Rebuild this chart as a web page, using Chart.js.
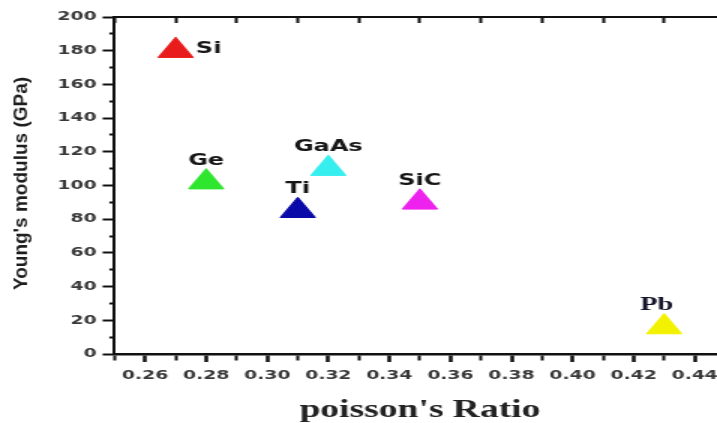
<!DOCTYPE html>
<html>
<head>
<meta charset="utf-8">
<script src="https://cdn.jsdelivr.net/npm/chart.js@4.4.1/dist/chart.umd.min.js"></script>
<style>
    html, body { margin: 0; padding: 0; background: #fff; overflow: hidden; width: 717px; height: 423px; }
    #wrap { width: 500px; height: 423px; transform: scaleX(1.5); transform-origin: 0 0; }
    canvas { display: block; }
</style>
</head>
<body>
<div id="wrap"><canvas id="moduloChart" width="500" height="423"></canvas></div>
<script>
// Datos
const materiales = ['Si', 'Ge', 'Ti', 'GaAs', 'SiC', 'Pb'];
const poisson = [0.27, 0.28, 0.31, 0.32, 0.35, 0.43];
const young = [180, 102, 85, 110, 90, 16];
const colores = ['#e81c1c', '#2ee62e', '#0a0aa8', '#36eeee', '#ee22ee', '#f2f200'];
const xEtiquetas = [0.26, 0.28, 0.30, 0.32, 0.34, 0.36, 0.38, 0.40, 0.42, 0.44];
const yEtiquetas = [0, 20, 40, 60, 80, 100, 120, 140, 160, 180, 200];

const ESTIRAR = 1.5;   // el canvas se estira en horizontal como la figura original

function esMayor(lista, v) {
    return lista.some(t => Math.abs(t - v) < 1e-6);
}

// Etiquetas de cada material y titulos de ejes
const textosPlugin = {
    id: 'textos',
    afterDatasetsDraw(chart) {
        const ctx = chart.ctx;
        const puntos = chart.getDatasetMeta(0).data;
        const ajustes = {
            Si: { dx: 13.5, dy: -2, align: 'left', base: 'middle' },
            Pb: { dx: -5, dy: -17.5, align: 'center', base: 'alphabetic', serif: true }
        };
        ctx.save();
        puntos.forEach((p, i) => {
            const nombre = materiales[i];
            const a = ajustes[nombre] || { dx: 0, dy: -17.5, align: 'center', base: 'alphabetic' };
            ctx.font = a.serif ? 'bold 19px "Liberation Serif"' : 'bold 16px "DejaVu Sans"';
            ctx.fillStyle = a.serif ? '#14142a' : '#161616';
            ctx.textAlign = a.align;
            ctx.textBaseline = a.base;
            ctx.fillText(nombre, p.x + a.dx, p.y + a.dy);
        });

        const area = chart.chartArea;
        // titulo eje x
        ctx.font = 'bold 25px "Liberation Serif"';
        ctx.fillStyle = '#222';
        ctx.textAlign = 'center';
        ctx.textBaseline = 'alphabetic';
        ctx.fillText("poisson's Ratio", (area.left + area.right) / 2, 417);

        // titulo eje y (compensando el estiramiento)
        ctx.translate(18.3, (area.top + area.bottom) / 2 - 2);
        ctx.scale(1 / ESTIRAR, 1);
        ctx.rotate(-Math.PI / 2);
        ctx.font = 'bold 19px "Liberation Sans"';
        ctx.fillStyle = '#1e1e1e';
        ctx.fillText("Young's modulus (GPa)", 0, 0);
        ctx.restore();
    }
};

const ctx = document.getElementById('moduloChart').getContext('2d');
new Chart(ctx, {
    type: 'scatter',
    data: {
        datasets: [{
            label: 'Materiales',
            data: poisson.map((x, i) => ({ x: x, y: young[i] })),
            pointStyle: 'triangle',
            pointRadius: 13.5,
            pointHoverRadius: 13.5,
            pointBackgroundColor: colores,
            pointBorderColor: colores,
            pointBorderWidth: 1
        }]
    },
    options: {
        responsive: false,
        animation: false,
        events: [],
        layout: {
            padding: { top: 17, right: 16.5, bottom: 0, left: 0 }
        },
        plugins: {
            legend: { display: false },
            tooltip: { enabled: false }
        },
        scales: {
            x: {
                type: 'linear',
                position: 'bottom',
                min: 0.25,
                max: 0.45,
                afterFit: scale => { scale.height = 69; },
                border: { display: true, color: '#111', width: 2.5 },
                grid: {
                    drawOnChartArea: false,
                    drawTicks: true,
                    tickLength: 8,
                    tickColor: '#111',
                    tickWidth: c => esMayor(xEtiquetas, c.tick.value) ? 2.5 : 2,
                    tickBorderDash: c => esMayor(xEtiquetas, c.tick.value) ? [] : [5, 50]
                },
                ticks: {
                    stepSize: 0.01,
                    maxTicksLimit: 100,
                    autoSkip: false,
                    maxRotation: 0,
                    padding: 6,
                    color: '#383838',
                    font: { family: 'DejaVu Sans', size: 12.5, weight: 'bold' },
                    callback: v => esMayor(xEtiquetas, v) ? v.toFixed(2) : ''
                }
            },
            xArriba: {
                type: 'linear',
                position: 'top',
                min: 0.25,
                max: 0.45,
                afterFit: scale => { scale.height = 0; },
                border: { display: true, color: '#111', width: 2 },
                grid: {
                    drawOnChartArea: false,
                    drawTicks: true,
                    tickLength: -6,
                    tickWidth: 2,
                    tickColor: c => Math.round(c.tick.value * 100) % 2 === 1 ? '#111' : 'rgba(0,0,0,0)'
                },
                ticks: {
                    display: false,
                    stepSize: 0.01,
                    maxTicksLimit: 100,
                    autoSkip: false
                }
            },
            y: {
                type: 'linear',
                position: 'left',
                min: 0,
                max: 200,
                afterFit: scale => { scale.width = 76.4; },
                border: { display: true, color: '#111', width: 2 },
                grid: {
                    drawOnChartArea: false,
                    drawTicks: true,
                    tickLength: 8,
                    tickColor: '#111',
                    tickWidth: 2,
                    tickBorderDash: c => esMayor(yEtiquetas, c.tick.value) ? [] : [0, 4.5, 10, 50]
                },
                ticks: {
                    stepSize: 10,
                    maxTicksLimit: 100,
                    autoSkip: false,
                    padding: 4,
                    color: '#383838',
                    font: { family: 'DejaVu Sans', size: 12.5, weight: 'bold' },
                    callback: v => esMayor(yEtiquetas, v) ? String(v) : ''
                }
            }
        }
    },
    plugins: [textosPlugin]
});
</script>
</body>
</html>
